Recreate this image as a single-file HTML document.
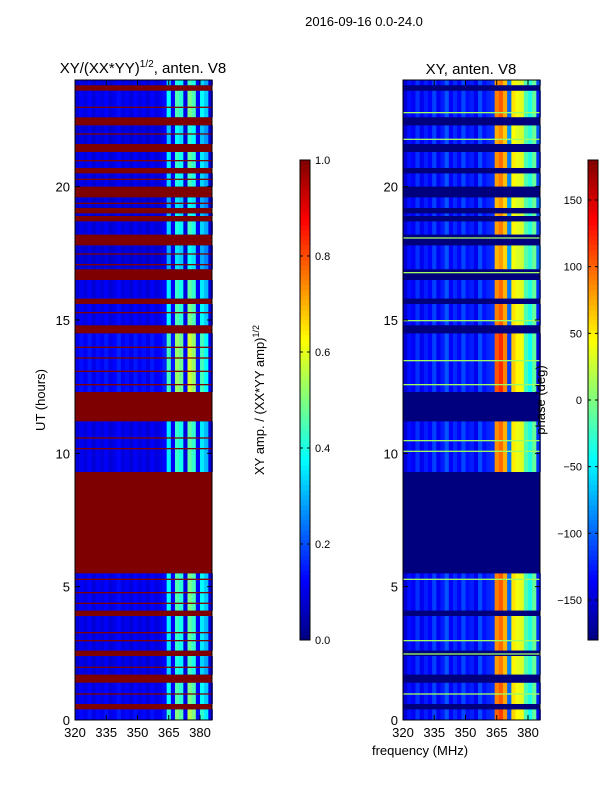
<!DOCTYPE html>
<html><head><meta charset="utf-8"><style>
body{margin:0;background:#fff;font-family:"Liberation Sans","DejaVu Sans",sans-serif;}
svg text{font-family:"Liberation Sans","DejaVu Sans",sans-serif;fill:#000}
</style></head><body>
<svg id="c" width="600" height="800" xmlns="http://www.w3.org/2000/svg">
<text x="364" y="26" font-size="13" text-anchor="middle">2016-09-16 0.0-24.0</text>
<text x="143" y="73" font-size="15" text-anchor="middle">XY/(XX*YY)<tspan font-size="10" dy="-6">1/2</tspan><tspan dy="6">, anten. V8</tspan></text>
<text x="471" y="74" font-size="15" text-anchor="middle">XY, anten. V8</text>
<text transform="translate(45,400) rotate(-90)" font-size="13" text-anchor="middle">UT (hours)</text>
<text transform="translate(264,400) rotate(-90)" font-size="13" text-anchor="middle">XY amp. / (XX*YY amp)<tspan font-size="9" dy="-5">1/2</tspan></text>
<g id="L"></g>
<g id="R"></g>
<g id="A"></g>
<text transform="translate(545,400) rotate(-90)" font-size="13" text-anchor="middle">phase (deg)</text>
<text x="420" y="755" font-size="13" text-anchor="middle">frequency (MHz)</text>
</svg>
<script>
// data
const channels=[320,322,324,326,328,330,332,334,336,338,340,342,344,346,348,350,352,354,356,358,360,362,364,366,368,370,372,374,376,378,380,382,384];
const ampProfile=[0.1,0.13,0.11,0.14,0.1,0.13,0.11,0.14,0.1,0.12,0.15,0.11,0.13,0.1,0.14,0.11,0.13,0.1,0.14,0.11,0.12,0.15,0.42,0.14,0.5,0.46,0.11,0.55,0.5,0.14,0.42,0.36,0.1];
const phaseProfile=[-150,-130,-138,-118,-140,-125,-135,-112,-138,-126,-105,-136,-120,-134,-110,-130,-124,-140,-108,-130,-122,-118,100,115,85,-110,60,45,40,-20,-40,-10,-140];
const segStart=[0,0.6,1.7,2.6,4.1,9.3,12.3,14.8,15.8,16.9,18.2,18.9,19.2,20.0,20.7,21.6,22.6,23.8];
const segEnd=[0.4,1.4,2.4,3.9,5.5,11.2,14.5,15.6,16.5,17.8,18.7,19.0,19.6,20.5,21.3,22.3,23.6,24.0];
const segGain=[1.0,0.9,0.8,0.85,0.9,0.85,1.05,0.9,0.85,0.7,0.8,0.75,0.7,0.8,0.85,0.75,0.9,0.8];
const flagStart=[0.4,1.4,2.4,3.9,5.5,11.2,14.5,15.6,16.5,17.8,18.7,19.0,19.6,20.5,21.3,22.3,23.6];
const flagEnd=[0.6,1.7,2.6,4.1,9.3,12.3,14.8,15.8,16.9,18.2,18.9,19.2,20.0,20.7,21.6,22.6,23.8];
const thinLinesAmp=[1.0,2.0,3.0,3.3,4.4,4.8,5.3,10.2,10.6,12.6,13.1,13.6,14.0,15.3,17.1,17.5,18.0,19.4,20.3,21.0,22.0,23.0];
const thinLinesPhase=[1.0,2.5,3.0,5.3,10.1,10.5,12.6,13.5,15.0,16.8,18.1,21.8,22.8];
const yTicks=[0,5,10,15,20];
const xTicks=[320,335,350,365,380];
const ampTicks=[0.0,0.2,0.4,0.6,0.8,1.0];
const phaseTicks=[-150,-100,-50,0,50,100,150];

const NS="http://www.w3.org/2000/svg";
function jet(v){v=Math.max(0,Math.min(1,v));
 const f=x=>Math.round(255*Math.max(0,Math.min(1,x)));
 return `rgb(${f(1.5-Math.abs(4*v-3))},${f(1.5-Math.abs(4*v-2))},${f(1.5-Math.abs(4*v-1))})`;}
function el(p,t,a){const e=document.createElementNS(NS,t);for(const k in a)e.setAttribute(k,a[k]);p.appendChild(e);return e;}
const T=80,B=720;
const yS=h=>B-(B-T)*h/24;
function xS(x0,f){return x0+(f-320)*125/60;}
const panels=[{x0:75,g:'L',amp:true},{x0:403,g:'R',amp:false}];
panels.forEach(p=>{
 const g=document.getElementById(p.g);
 el(g,'rect',{x:p.x0,y:T,width:137,height:640,fill:'#00008f'});
 segStart.forEach((s,i)=>{
  channels.forEach((c,j)=>{
   const v=p.amp?ampProfile[j]*segGain[i]:(phaseProfile[j]*(j>21?segGain[i]:1)+180)/360;
   const r=el(g,'rect',{x:xS(p.x0,c),y:yS(segEnd[i]),width:125/30+0.3,height:yS(s)-yS(segEnd[i]),fill:jet(v)});
   
   
  });
 });
 flagStart.forEach((s,i)=>{
  const r=el(g,'rect',{x:p.x0,y:yS(flagEnd[i]),width:137,height:yS(s)-yS(flagEnd[i]),fill:p.amp?'#7f0000':'#00007f'});
  
  
 });
 (p.amp?thinLinesAmp:thinLinesPhase).forEach(h=>{
  const r=el(g,'rect',{x:p.x0,y:yS(h),width:137,height:1.3,fill:p.amp?'#7f0000':'#a0ff60'});
  
  
 });
});
const A=document.getElementById('A');
panels.forEach(p=>{
 el(A,'rect',{x:p.x0,y:T,width:137,height:640,fill:'none',stroke:'#000','stroke-width':1});
 yTicks.forEach(t=>{const y=yS(t);
  el(A,'line',{x1:p.x0,x2:p.x0+5,y1:y,y2:y,stroke:'#000'});
  el(A,'line',{x1:p.x0+137,x2:p.x0+132,y1:y,y2:y,stroke:'#000'});
  const tx=el(A,'text',{x:p.x0-5,y:y+5,'font-size':13,'text-anchor':'end'});tx.textContent=t;
  });
 xTicks.forEach(t=>{const x=xS(p.x0,t);
  el(A,'line',{x1:x,x2:x,y1:B,y2:B-5,stroke:'#000'});
  el(A,'line',{x1:x,x2:x,y1:T,y2:T+5,stroke:'#000'});
  const tx=el(A,'text',{x:x,y:B+17,'font-size':13,'text-anchor':'middle'});tx.textContent=t;
  });
});
// colorbars
function cbar(x,ticks,lo,hi,name,left){
 const g=el(A,'g',{});
 for(let i=0;i<96;i++){el(g,'rect',{x:x,y:640-(i+1)*5,width:10,height:5.4,fill:jet((i+0.5)/96)});}
 el(g,'rect',{x:x,y:160,width:10,height:480,fill:'none',stroke:'#000'});
 ticks.forEach(t=>{const y=640-480*(t-lo)/(hi-lo);
  el(g,'line',{x1:x,x2:x+3,y1:y,y2:y,stroke:'#000'});el(g,'line',{x1:x+10,x2:x+7,y1:y,y2:y,stroke:'#000'});
  const tx=el(g,'text',left?{x:x-6,y:y+4,'font-size':11,'text-anchor':'end'}:{x:x+15,y:y+4,'font-size':11});
  tx.textContent=(lo===0?t.toFixed(1):String(t).replace('-','\u2212'));
  });
}
cbar(300,ampTicks,0,1,'amp-colorbar',false);
cbar(588,phaseTicks,-180,180,'phase-colorbar',true);
</script>
</body></html>
